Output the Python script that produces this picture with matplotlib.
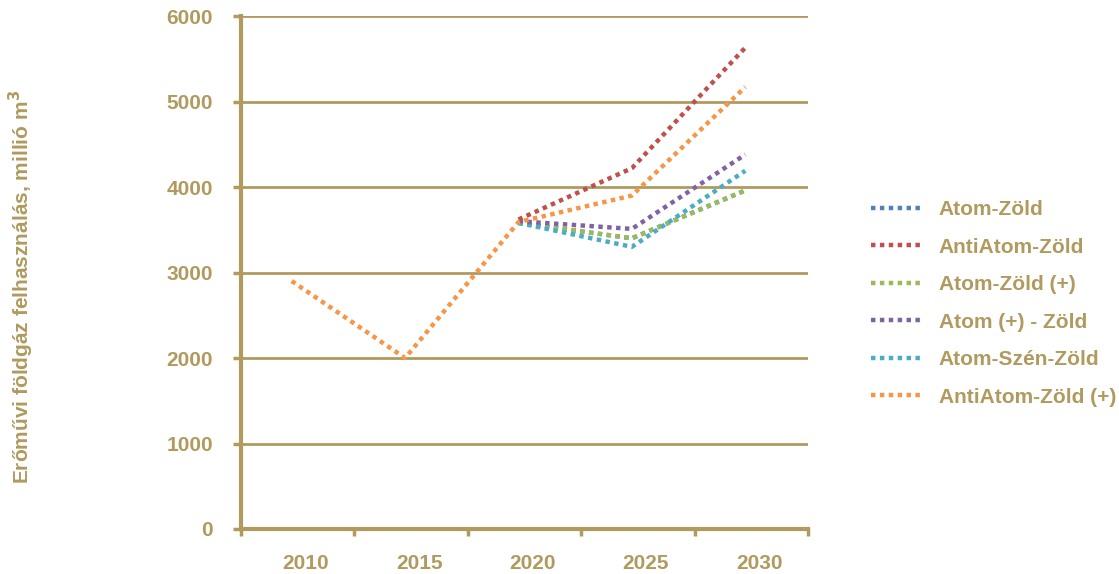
import matplotlib.pyplot as plt
import matplotlib.transforms as mtransforms
import numpy as np

plt.rcParams['font.family'] = ['Liberation Sans', 'DejaVu Sans']
plt.rcParams['font.weight'] = 'bold'

evek = ['2010', '2015', '2020', '2025', '2030']

# forgatókönyvek (millió m3)
atom_zold = [np.nan, np.nan, 3580, 3400, 3960]
antiatom_zold = [np.nan, np.nan, 3620, 4220, 5630]
atom_zold_plusz = [np.nan, np.nan, 3580, 3400, 3960]
atom_plusz_zold = [np.nan, np.nan, 3600, 3510, 4380]
atom_szen_zold = [np.nan, np.nan, 3580, 3300, 4190]
antiatom_zold_plusz = [2900, 2000, 3590, 3900, 5170]

sorozatok = [
    ('Atom-Zöld', atom_zold, '#4F81BD'),
    ('AntiAtom-Zöld', antiatom_zold, '#C0504D'),
    ('Atom-Zöld (+)', atom_zold_plusz, '#9BBB59'),
    ('Atom (+) - Zöld', atom_plusz_zold, '#8064A2'),
    ('Atom-Szén-Zöld', atom_szen_zold, '#4BACC6'),
    ('AntiAtom-Zöld (+)', antiatom_zold_plusz, '#F79646'),
]

szin = '#B09A5E'
betu = 15

fig = plt.figure(figsize=(11.19, 5.74), dpi=100)
ax = fig.add_axes([241 / 1119, 1 - 529 / 574, (808 - 241) / 1119, (529 - 16) / 574])

# a vonalak kicsit balra, a feliratok kicsit jobbra csúsznak a kategória közepéhez képest
balra = ax.transData + mtransforms.ScaledTranslation(-6 / 100, 0, fig.dpi_scale_trans)

x = np.arange(len(evek))
# a rajzolási sorrend: a kék alul, a többi fölötte
rajz_sorrend = [0, 2, 4, 3, 1, 5]
vonalak = {}
for i in rajz_sorrend:
    nev, ertek, c = sorozatok[i]
    vonalak[i], = ax.plot(x, ertek, color=c, linewidth=3.2, linestyle=(0, (1, 1)),
                          dash_capstyle='butt', label=nev, transform=balra)

ax.set_xlim(-0.5, len(evek) - 0.5)
ax.set_ylim(0, 6000)
ax.set_yticks(range(0, 6001, 1000))
ax.yaxis.grid(True, color=szin, linewidth=2)
ax.set_axisbelow(True)

ax.set_xticks(x)
ax.set_xticklabels(evek)
ax.set_xticks(np.arange(-0.5, len(evek)), minor=True)
ax.tick_params(axis='x', which='major', length=0, pad=18, labelsize=betu, labelcolor=szin)
ax.tick_params(axis='x', which='minor', length=5, width=2.5, color=szin, direction='out')
ax.tick_params(axis='y', length=6, width=2.5, color=szin, pad=14, labelsize=betu, labelcolor=szin)

jobbra = mtransforms.ScaledTranslation(8 / 100, 0, fig.dpi_scale_trans)
for lbl in ax.get_xticklabels():
    lbl.set_transform(lbl.get_transform() + jobbra)

for s in ['top', 'right']:
    ax.spines[s].set_visible(False)
for s in ['left', 'bottom']:
    ax.spines[s].set_color(szin)
    ax.spines[s].set_linewidth(3)

fig.text(21 / 1119, 1 - 287 / 574, 'Erőművi földgáz felhasználás, millió m$^\\mathbf{3}$',
         rotation=90, ha='center', va='center', color=szin, fontsize=betu, fontweight='bold')

ax.legend([vonalak[i] for i in range(6)], [s[0] for s in sorozatok],
          loc='upper left', bbox_to_anchor=(871 / 1119, 1 - 200 / 574),
          bbox_transform=fig.transFigure, frameon=False, fontsize=betu,
          borderpad=0, borderaxespad=0,
          labelcolor=szin, handlelength=2.35, handletextpad=0.9, labelspacing=0.89)

fig.savefig('out.png', dpi=100)
